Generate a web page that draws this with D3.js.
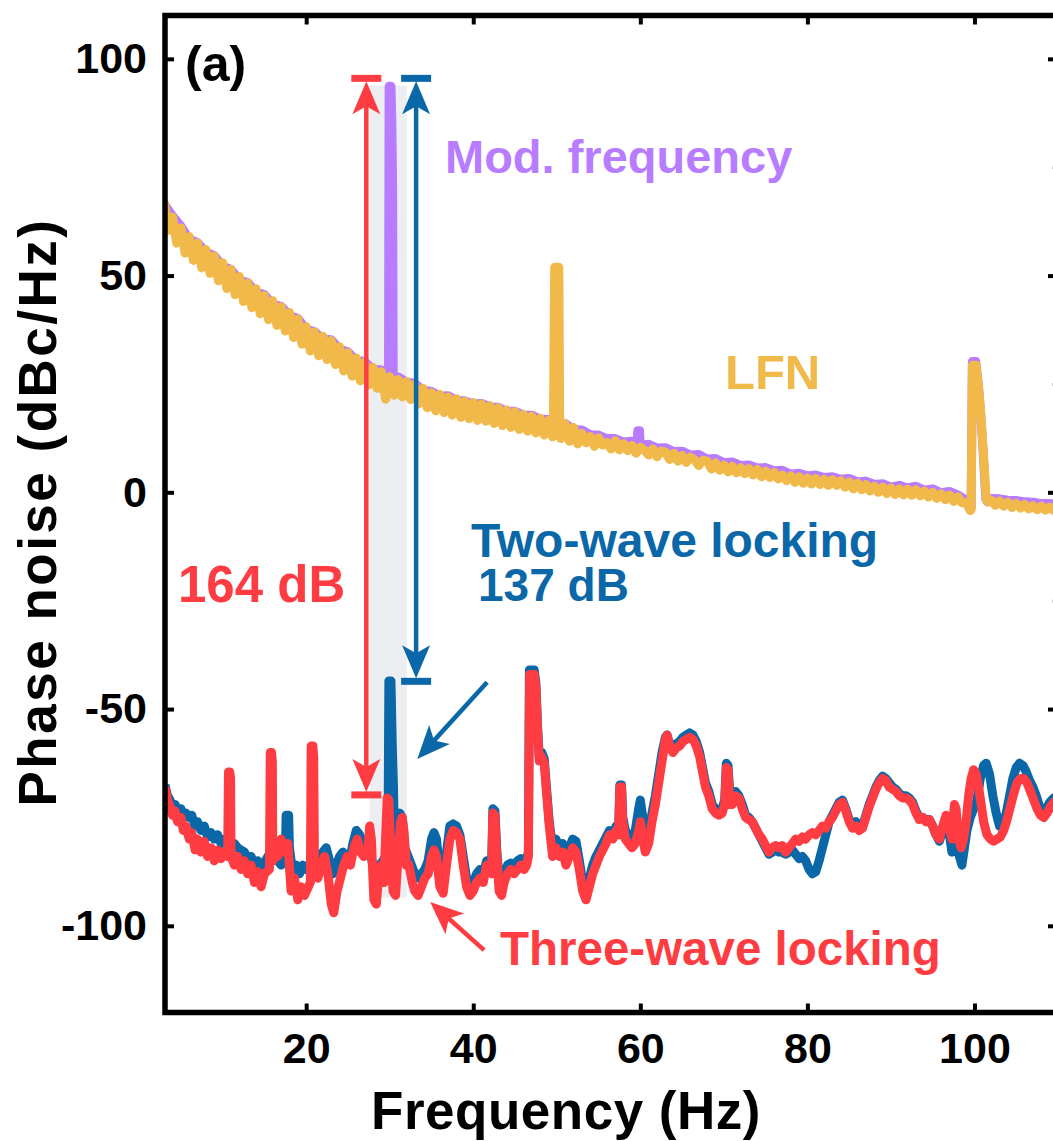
<!DOCTYPE html>
<html>
<head>
<meta charset="utf-8">
<script src="https://cdn.jsdelivr.net/npm/d3@7"></script>
<style>
  body { margin: 0; background: #fff; }
  svg text { font-family: "Liberation Sans", Arial, sans-serif; font-weight: bold; }
</style>
</head>
<body>
<div id="chart"></div>
<script>
// ---- data ----
const xTicks = [20, 40, 60, 80, 100];
const yTicks = [100, 50, 0, -50, -100];

// LFN trace on a 0.5 Hz grid starting at 3 Hz
const lfnDb = [
  67, 60.5, 63.5, 57.5, 61, 55.2, 59, 53.5, 57.5, 51.8,
  56, 50.5, 54.5, 48.8, 53, 47, 51.4, 45.6, 49.8, 44,
  48.3, 42.6, 47, 41.2, 45.4, 39.8, 44.2, 38.5, 42.8, 37.2,
  41.5, 35.7, 40, 34.2, 38.2, 32.6, 37, 31.5, 36, 30.6,
  35, 29.5, 33.6, 28, 32.2, 26.8, 31, 25.7, 30, 24.8,
  28.8, 24, 27.8, 21.5, 26.7, 22.4, 26, 22, 25.6, 21.4,
  24.9, 20.4, 24, 19.5, 23, 18.8, 22.6, 18.4, 22, 17.8,
  21.6, 17.3, 21, 17, 20.7, 16.6, 20.4, 16.4, 20, 15.9,
  19.5, 15.4, 19, 15, 18.6, 14.5, 18, 14.1, 17.6, 13.7,
  17.1, 13.2, 16.6, 12.8, 14.4, 12.4, 15.8, 11.8, 15, 11.2,
  13.6, 11.4, 12.9, 10.6, 12.6, 10.9, 11.5, 10, 11.9, 9.8,
  11.2, 9.6, 10.8, 9, 10.4, 9.7, 8.6, 10, 8.2, 9.5,
  9.3, 7.6, 9, 7.2, 8.5, 6.9, 8.1, 7.5, 6.2, 7.4,
  7.2, 5.4, 6.8, 5.1, 6.3, 4.7, 6, 4.5, 5.7, 4.3,
  5.5, 4, 5.3, 3.6, 4.9, 3.4, 4.6, 3.1, 4, 2.7,
  3.8, 2.3, 3.6, 2.1, 3.3, 1.9, 3.2, 1.8, 3, 1.6,
  2.9, 1.6, 2.7, 1.2, 2.4, 0.8, 2.1, 0.6, 1.8, 0.3,
  1.4, 0, 1.2, -0.3, 1, -0.5, 0.8, -0.6, 0.7, -0.7,
  0.6, -0.8, 0.3, -1.1, 0, -1.4, -0.3, -1.7, -0.6, -2.1,
  -1, -2.4, -2.4, -4.2, -2, -2, -2, -1.8, -1.8, -3,
  -2, -3.2, -2.3, -3.5, -2.6, -3.6, -2.8, -3.8, -3.1, -4,
  -3.2, -4.1, -3.4, -4.2, -3.5
];
const lfnSpikes = [
  [[49.6, 14.6], [49.68, 37], [49.75, 51.9], [50.25, 51.9], [50.35, 14]],
  [[99.6, -4], [99.75, 29.3], [100.2, 29.3], [100.5, 24], [100.8, 17], [101.1, 8], [101.4, -1.5], [101.6, -2.2]]
];

// modulation-frequency trace on a 1 Hz grid starting at 3 Hz
const modDb = [
  66.5, 63.8, 61.4, 58.4, 57.6, 55.4, 54.6, 52.2, 51.4, 49,
  48.4, 46.2, 45.6, 43.4, 42.9, 40.8, 40.1, 37.6, 37.1, 35.3,
  35.2, 33, 32.4, 30.4, 30.2, 28.4, 28.2, 26.5, 26.6, 25.5,
  25.1, 23.6, 23.3, 22.2, 22.3, 21.2, 21.1, 20.4, 20.5, 19.7,
  19.6, 18.7, 18.7, 17.8, 17.8, 16.9, 16.8, 15.8, 15.9, 14.5,
  14.4, 13.3, 13.2, 12.4, 12.4, 11.6, 11.8, 11, 11.1, 10.2,
  10.3, 9.4, 9.5, 8.6, 8.7, 7.7, 7.8, 6.8, 7, 6.2,
  6.3, 5.6, 5.7, 5, 5.1, 4.2, 4.4, 3.8, 4, 3.4,
  3.6, 3, 3.2, 2.4, 2.6, 1.8, 2, 1.2, 1.6, 1,
  1.4, 0.5, 0.8, -0.1, 0.2, -0.6, -1.8, -1.6, -1.5, -1.4,
  -1.5, -1.8, -1.9, -2.2, -2.3, -2.6, -2.6, -2.8
];
const modSpikes = [
  [[29.85, 25], [29.93, 93.7], [30.15, 93.7], [30.25, 86], [30.35, 70], [30.42, 26]],
  [[59.6, 11.2], [59.7, 14.2], [59.9, 14.2], [60.0, 10.8]],
  [[99.6, -3.5], [99.75, 30.2], [100.15, 30.2], [100.45, 25], [100.75, 18], [101.05, 9], [101.35, -1.5], [101.55, -2.2]]
];

// two-wave locking [Hz, dBc/Hz]
const twoWave = [
  [3.1,-67.5],[3.4,-70],[3.7,-71],[4.0,-72.5],[4.3,-72],[4.6,-73.5],[5.0,-73],[5.3,-75],[5.6,-74],[6.0,-75],
  [6.3,-74.5],[6.7,-77],[7.0,-76],[7.4,-78],[7.8,-77],[8.2,-79.5],[8.6,-78.5],[9.0,-80],[9.4,-79],[9.8,-81],
  [10.2,-80],[10.6,-81.5],[11.0,-82],[11.4,-81],[11.8,-82],[12.2,-82.5],[12.6,-83],[13.0,-84.5],[13.4,-84],[13.8,-86],
  [14.2,-85],[14.6,-87],[15.0,-85.5],[15.4,-84],[15.8,-83],[16.2,-84],[16.6,-85],[17.0,-86],
  [17.5,-84],[17.6,-74.5],[17.9,-74.5],[18.0,-82],[18.4,-88],[18.8,-86],[19.2,-88],[19.6,-86],[20.0,-87],[20.4,-86],
  [20.8,-85],[21.2,-86],[21.6,-84],[22.0,-83],[22.4,-82],[22.8,-85],[23.2,-88],[23.6,-86],[24.0,-84],[24.4,-83],
  [24.8,-84],[25.2,-85],[25.6,-81],[26.0,-78],[26.4,-79],[26.8,-81],[27.2,-83],[27.6,-83],[28.0,-86],[28.4,-90],
  [28.8,-86],[29.2,-85],[29.5,-84],[29.8,-80],[29.9,-43.5],[30.15,-43.5],[30.3,-58],[30.45,-68],[30.55,-80],[30.8,-76],
  [31.2,-74],[31.5,-75],[31.8,-82],[32.2,-84],[32.6,-86],[33.0,-88],[33.4,-89],[33.8,-88],[34.2,-87],[34.6,-85],
  [35.0,-80],[35.3,-78.5],[35.6,-80],[36.0,-88],[36.4,-90],[36.8,-83],[37.2,-77],[37.6,-76.5],[38.0,-77],[38.4,-79],
  [38.8,-84],[39.2,-89],[39.6,-91],[40.0,-90],[40.4,-88],[40.8,-87],[41.2,-88],[41.6,-85],[42.2,-86],[42.35,-73],
  [42.6,-73.5],[42.8,-82],[43.1,-90],[43.4,-91],[43.7,-88],[44.1,-86],[44.5,-85.5],[44.9,-86],[45.3,-85],[45.7,-84.5],
  [46.1,-85],[46.4,-84.5],[46.6,-83],[46.72,-41],[47.3,-41],[47.5,-44],[47.7,-54],[47.9,-61],[48.2,-60],[48.5,-61.5],
  [48.8,-69],[49.1,-76],[49.5,-82],[49.9,-80],[50.3,-82],[50.7,-81],[51.1,-84],[51.5,-82],[51.9,-80],[52.3,-80.5],
  [52.7,-85],[53.1,-90],[53.5,-92],[53.9,-89],[54.3,-86],[54.7,-84],[55.1,-82.5],[55.5,-81],[55.9,-79.5],[56.3,-78],
  [56.7,-79],[57.1,-77],[57.4,-78],[57.55,-67.5],[57.75,-67.5],[57.9,-75],[58.2,-78],[58.6,-79],[59.0,-80],[59.4,-78],
  [59.8,-73],[60.0,-71],[60.3,-75],[60.6,-81],[61.0,-79],[61.4,-74],[61.8,-70],[62.2,-65],[62.6,-60],[63.0,-56.5],
  [63.2,-56],[63.5,-58],[63.9,-59],[64.3,-58],[64.7,-57.5],[65.1,-56.5],[65.5,-56],[65.9,-55.5],[66.3,-56],[66.7,-57.5],
  [67.1,-60],[67.4,-63],[67.8,-67],[68.2,-69],[68.6,-72],[69.0,-73],[69.4,-73.5],[69.8,-73],[70.1,-71],[70.3,-62.5],
  [70.5,-63],[70.7,-69],[71.0,-71],[71.4,-69],[71.8,-70],[72.2,-72],[72.6,-74.5],[73.0,-75],[73.4,-76],[73.8,-77.5],
  [74.2,-79],[74.6,-80.5],[75.0,-82],[75.4,-83.5],[75.8,-83],[76.2,-82.5],[76.6,-83],[77.0,-83],[77.4,-83.5],[77.8,-83],
  [78.2,-82.5],[78.6,-83.5],[79.0,-84.5],[79.4,-84],[79.8,-85],[80.2,-87],[80.6,-88],[81.0,-87.5],[81.4,-85],[81.8,-82],
  [82.2,-79],[82.6,-76],[83.0,-74.5],[83.4,-73],[83.8,-71.5],[84.2,-71],[84.6,-73],[85.0,-75.5],[85.4,-76.5],[85.8,-76],
  [86.2,-77],[86.6,-77],[87.0,-74.5],[87.4,-72],[87.8,-70],[88.2,-68],[88.6,-66.5],[89.0,-65.5],[89.4,-66],[89.8,-67],
  [90.2,-68],[90.6,-68.5],[91.0,-69.5],[91.4,-70],[91.8,-70],[92.2,-70.5],[92.6,-71.5],[93.0,-73.5],[93.4,-75],[93.8,-75],
  [94.2,-75.5],[94.6,-75.5],[95.0,-77],[95.4,-79],[95.8,-80.5],[96.2,-78],[96.6,-76],[97.0,-79],[97.3,-83],[97.6,-78],
  [97.9,-80],[98.2,-84],[98.5,-86],[98.8,-82],[99.1,-78],[99.5,-75],[99.9,-73],[100.3,-71],[100.7,-66],[101.1,-63],
  [101.4,-62.5],[101.8,-65],[102.2,-70],[102.6,-74],[103.0,-77],[103.4,-77],[103.8,-74],[104.2,-70],[104.6,-66],[105.0,-63.5],
  [105.4,-62.5],[105.8,-63],[106.2,-64.5],[106.6,-66.5],[107.0,-68],[107.4,-70],[107.8,-72.5],[108.2,-74],[108.6,-73],[109.0,-71.5],
  [109.5,-70.5],[110,-70]
];

// three-wave locking [Hz, dBc/Hz]
const threeWave = [
  [3.1,-68],[3.4,-71],[3.7,-72.5],[4.0,-74.5],[4.3,-73.5],[4.6,-76],[5.0,-75],[5.3,-78],[5.6,-77],[6.0,-80],
  [6.3,-78.5],[6.7,-82.5],[7.0,-80],[7.4,-83],[7.8,-80.5],[8.2,-84],[8.6,-82],[9.0,-85],[9.4,-82.5],[9.8,-84.5],
  [10.2,-83],[10.6,-84],[10.7,-64.5],[10.85,-64.5],[10.95,-66],[11.0,-84],[11.4,-86],[11.8,-84],[12.2,-87],[12.6,-85],
  [13.0,-88],[13.4,-86],[13.8,-90],[14.2,-87.5],[14.6,-91],[15.0,-88],[15.6,-87],[15.7,-60],[15.85,-60],[15.95,-62],
  [16.0,-85],[16.3,-82],[16.6,-84],[17.0,-80],[17.4,-83],[17.8,-81],[18.2,-92],[18.6,-89],[19.0,-94],[19.4,-91],
  [19.8,-93],[20.5,-90],[20.6,-58.5],[20.8,-58.5],[20.9,-61],[21.0,-88],[21.4,-89],[21.8,-86],[22.2,-84],[22.6,-88],
  [23.0,-95],[23.3,-97],[23.7,-92],[24.1,-89],[24.5,-86],[24.9,-84],[25.3,-86],[25.7,-82],[26.1,-80],[26.5,-83],
  [26.9,-84],[27.4,-82],[27.6,-77],[27.8,-80],[28.1,-94],[28.4,-95],[28.7,-88],[29.0,-86],[29.3,-90],[29.5,-80],
  [29.7,-70.5],[29.9,-71],[30.1,-82],[30.4,-92],[30.7,-93],[31.0,-84],[31.3,-76],[31.5,-75],[31.7,-78],[32.0,-86],
  [32.3,-86],[32.7,-90],[33.0,-92],[33.4,-93],[33.8,-91],[34.2,-89],[34.6,-88],[35.0,-84],[35.3,-82.5],[35.6,-84],
  [36.0,-91],[36.4,-92.5],[36.8,-86],[37.2,-80],[37.6,-78],[38.0,-78.5],[38.4,-80],[38.8,-86],[39.2,-91],[39.6,-93],
  [40.0,-92],[40.4,-90],[40.8,-89],[41.2,-90],[41.6,-86],[42.2,-88],[42.35,-74],[42.6,-74.5],[42.8,-83],[43.1,-92],
  [43.4,-93],[43.7,-90],[44.1,-88],[44.5,-87],[44.9,-88],[45.3,-87],[45.7,-86],[46.1,-87],[46.4,-86],[46.6,-84],
  [46.75,-42],[47.3,-42],[47.5,-45],[47.7,-55],[47.9,-62],[48.2,-61],[48.5,-62.5],[48.8,-70],[49.1,-77],[49.5,-84],
  [49.9,-82],[50.3,-84],[50.7,-83],[51.1,-86],[51.5,-84],[51.9,-82],[52.3,-83],[52.7,-87],[53.1,-92],[53.5,-94],
  [53.9,-91],[54.3,-88],[54.7,-86],[55.1,-84],[55.5,-82.5],[55.9,-81],[56.3,-79],[56.7,-80],[57.1,-78],[57.4,-79],
  [57.55,-68],[57.75,-68],[57.9,-76],[58.2,-80],[58.6,-81],[59.0,-82],[59.4,-81],[59.8,-78],[60.0,-76],[60.3,-80],
  [60.6,-83],[61.0,-81],[61.4,-76],[61.8,-72],[62.2,-67],[62.6,-62],[63.0,-57],[63.2,-56],[63.5,-58.5],[63.9,-60],
  [64.3,-59],[64.7,-58.5],[65.1,-57.5],[65.5,-57],[65.9,-56.5],[66.3,-57],[66.7,-58.5],[67.1,-61],[67.4,-64],[67.8,-68],
  [68.2,-70],[68.6,-73],[69.0,-74],[69.4,-74.5],[69.8,-74],[70.1,-72],[70.3,-63.5],[70.5,-64],[70.7,-72],[71.0,-72],
  [71.4,-70],[71.8,-70.5],[72.2,-73],[72.6,-75],[73.0,-75.5],[73.4,-76],[73.8,-77.5],[74.2,-79],[74.6,-80],[75.0,-81.5],
  [75.4,-83],[75.8,-82],[76.2,-81.5],[76.6,-82],[77.0,-81.5],[77.4,-83],[77.8,-82],[78.2,-81],[78.6,-80],[79.0,-80.5],
  [79.4,-79.5],[79.8,-80],[80.2,-79],[80.6,-78.5],[81.0,-79],[81.4,-78],[81.8,-77],[82.2,-77.5],[82.6,-76],[83.0,-75],
  [83.4,-73.5],[83.8,-72],[84.2,-71.5],[84.6,-73.5],[85.0,-76],[85.4,-77.5],[85.8,-77],[86.2,-78],[86.6,-77.5],[87.0,-75],
  [87.4,-72.5],[87.8,-70.5],[88.2,-68.5],[88.6,-67],[89.0,-66],[89.4,-66.5],[89.8,-68],[90.2,-68.5],[90.6,-69],[91.0,-70],
  [91.4,-70.5],[91.8,-70.5],[92.2,-71],[92.6,-72],[93.0,-74],[93.4,-75.5],[93.8,-75],[94.2,-76],[94.6,-75.5],[95.0,-77],
  [95.4,-79],[95.8,-80],[96.2,-77],[96.6,-74.5],[97.0,-77],[97.3,-80],[97.6,-72],[97.8,-73],[98.1,-80],[98.4,-82],
  [98.7,-80],[99.0,-76],[99.3,-70],[99.6,-66],[99.9,-64],[100.2,-65],[100.5,-68],[100.8,-72],[101.1,-76],[101.5,-79],
  [101.9,-80],[102.3,-80.5],[102.7,-80],[103.1,-79.5],[103.5,-78],[103.9,-75.5],[104.3,-72.5],[104.7,-69.5],[105.1,-67],[105.5,-66],
  [105.9,-66],[106.3,-67],[106.7,-69],[107.1,-71],[107.5,-73],[107.9,-74.5],[108.3,-75],[108.7,-74],[109.1,-72.5],[109.5,-71.5],
  [110,-71]
];

// ---- setup ----
const width = 1053, height = 1141;
const colors = { mod: "#b77cff", lfn: "#f1b94a", two: "#0a67a8", three: "#ff3c42", band: "#eceef1" };

const svg = d3.select("#chart").append("svg")
  .attr("width", width)
  .attr("height", height);

const x = d3.scaleLinear().domain([3.1, 110]).range([165, 1058]);
const y = d3.scaleLinear().domain([-120, 110]).range([1012.5, 15.5]);

// put spike groups into a gridded trace, dropping grid points they cover
function withSpikes(base, groups) {
  let pts = base;
  groups.forEach(g => {
    const lo = g[0][0], hi = g[g.length - 1][0];
    pts = pts.filter(p => p[0] < lo || p[0] > hi).concat(g);
  });
  return pts.sort((a, b) => a[0] - b[0]);
}
const lfnData = withSpikes(lfnDb.map((v, i) => [3 + 0.5 * i, v]), lfnSpikes);
const modData = withSpikes(modDb.map((v, i) => [3 + i, v]), modSpikes);

svg.append("clipPath").attr("id", "plot-clip")
  .append("rect")
  .attr("x", x.range()[0]).attr("y", y.range()[1])
  .attr("width", x.range()[1] - x.range()[0])
  .attr("height", y.range()[0] - y.range()[1]);

const plot = svg.append("g").attr("clip-path", "url(#plot-clip)");

// grey shaded window around the modulation frequency
plot.append("rect")
  .attr("x", x(27.6)).attr("y", y(93.8))
  .attr("width", x(32.05) - x(27.6))
  .attr("height", y(-93.5) - y(93.8))
  .attr("fill", colors.band);

const line = d3.line().x(d => x(d[0])).y(d => y(d[1]));

const traces = [
  { data: modData, color: colors.mod, w: 9 },
  { data: lfnData, color: colors.lfn, w: 9 },
  { data: twoWave, color: colors.two, w: 9 },
  { data: threeWave, color: colors.three, w: 9 }
];
plot.selectAll("path.trace")
  .data(traces)
  .join("path")
  .attr("class", "trace")
  .attr("d", d => line(d.data))
  .attr("fill", "none")
  .attr("stroke", d => d.color)
  .attr("stroke-width", d => d.w)
  .attr("stroke-linejoin", "round");

// ---- annotations ----
const ann = svg.append("g");

function head(tx, ty, ang, color) {
  ann.append("path")
    .attr("d", "M0,0 L-33,-14 L-25,0 L-33,14 Z")
    .attr("transform", `translate(${tx},${ty}) rotate(${ang})`)
    .attr("fill", color);
}

function arrow(x1, y1, x2, y2, color) {
  const a = Math.atan2(y2 - y1, x2 - x1);
  ann.append("line")
    .attr("x1", x1).attr("y1", y1)
    .attr("x2", x2 - 20 * Math.cos(a)).attr("y2", y2 - 20 * Math.sin(a))
    .attr("stroke", color).attr("stroke-width", 4.5);
  head(x2, y2, a * 180 / Math.PI, color);
}

// double arrow with end caps between two levels at a given frequency
function span(f, top, bottom, color) {
  const xc = x(f), y1 = y(top), y2 = y(bottom);
  ann.append("line")
    .attr("x1", xc).attr("y1", y1 + 20).attr("x2", xc).attr("y2", y2 - 20)
    .attr("stroke", color).attr("stroke-width", 4.5);
  head(xc, y1 + 3, -90, color);
  head(xc, y2 - 3, 90, color);
  [y1, y2].forEach(yy => ann.append("line")
    .attr("x1", xc - 15).attr("x2", xc + 15)
    .attr("y1", yy).attr("y2", yy)
    .attr("stroke", color).attr("stroke-width", 7));
}

span(27.2, 95.5, -69.8, colors.three);
span(33.16, 95.5, -43.6, colors.two);
arrow(x(41.66), y(-43.8), x(33.3), y(-61.5), colors.two);
arrow(x(41.3), y(-105.6), x(34.84), y(-94.5), colors.three);

const labels = [
  { t: "(a)", x: 185, y: 81, c: "#000", s: 50 },
  { t: "Mod. frequency", x: 445, y: 173, c: colors.mod, s: 47 },
  { t: "LFN", x: 725, y: 389, c: colors.lfn, s: 49 },
  { t: "Two-wave locking", x: 471, y: 557, c: colors.two, s: 48 },
  { t: "137 dB", x: 478, y: 601, c: colors.two, s: 46 },
  { t: "164 dB", x: 178, y: 602, c: colors.three, s: 51 },
  { t: "Three-wave locking", x: 500, y: 965, c: colors.three, s: 47.5 }
];
ann.selectAll("text")
  .data(labels)
  .join("text")
  .attr("x", d => d.x).attr("y", d => d.y)
  .attr("fill", d => d.c)
  .attr("font-size", d => d.s)
  .text(d => d.t);

// ---- axes and frame ----
function styleAxis(g) {
  g.select(".domain").remove();
  g.selectAll(".tick line").attr("stroke", "#000").attr("stroke-width", 4);
  g.selectAll(".tick text").attr("fill", "#000")
    .style("font-family", "'Liberation Sans', Arial, sans-serif")
    .style("font-weight", "bold")
    .attr("font-size", 43);
}

svg.append("g")
  .attr("transform", `translate(0,${y.range()[0]})`)
  .call(d3.axisBottom(x).tickValues(xTicks).tickSize(-9).tickPadding(20).tickFormat(d => d))
  .call(styleAxis);

svg.append("g")
  .attr("transform", `translate(0,${y.range()[1]})`)
  .call(d3.axisTop(x).tickValues(xTicks).tickSize(-9).tickFormat(""))
  .call(styleAxis);

svg.append("g")
  .attr("transform", `translate(${x.range()[0]},0)`)
  .call(d3.axisLeft(y).tickValues(yTicks).tickSize(-9).tickPadding(18).tickFormat(d => String(d)))
  .call(styleAxis);

svg.append("g")
  .attr("transform", `translate(${x.range()[1]},0)`)
  .call(d3.axisRight(y).tickValues(yTicks).tickSize(-10).tickFormat(""))
  .call(styleAxis);

svg.append("g")
  .attr("transform", `translate(${x.range()[1]},0)`)
  .call(d3.axisRight(y).tickValues([75, 25, -25]).tickSize(-6).tickFormat(""))
  .call(g => g.select(".domain").remove())
  .call(g => g.selectAll(".tick line").attr("stroke", "#cfcfcf").attr("stroke-width", 3));

svg.append("rect")
  .attr("x", x.range()[0]).attr("y", y.range()[1])
  .attr("width", x.range()[1] - x.range()[0])
  .attr("height", y.range()[0] - y.range()[1])
  .attr("fill", "none")
  .attr("stroke", "#000")
  .attr("stroke-width", 5.5);

svg.append("text")
  .attr("x", 566)
  .attr("y", 1129)
  .attr("text-anchor", "middle")
  .attr("font-size", 53)
  .attr("letter-spacing", 0.5)
  .text("Frequency (Hz)");

svg.append("text")
  .attr("transform", "translate(56,512) rotate(-90)")
  .attr("text-anchor", "middle")
  .attr("font-size", 53)
  .attr("letter-spacing", 2.5)
  .text("Phase noise (dBc/Hz)");
</script>
</body>
</html>
